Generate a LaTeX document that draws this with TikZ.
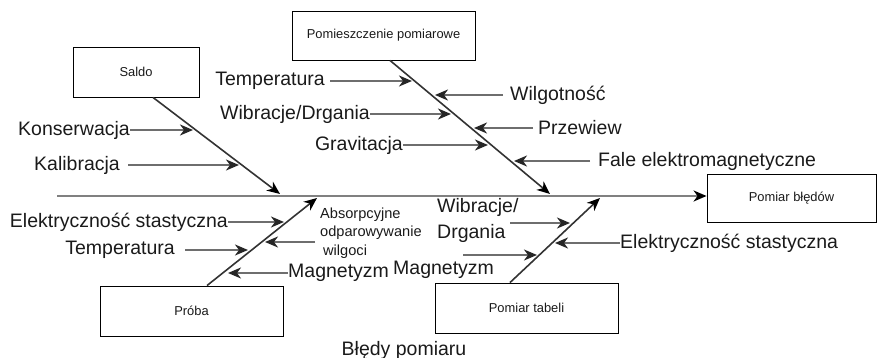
\documentclass[tikz,border=0pt]{standalone}
\usepackage{fontspec}
\setmainfont{Liberation Sans}
\usetikzlibrary{arrows.meta}
\definecolor{txt}{HTML}{1A1A1A}
\definecolor{spinec}{HTML}{808080}
\definecolor{bonec}{HTML}{333333}
\definecolor{arrc}{HTML}{6E6E6E}
\begin{document}
\begin{tikzpicture}[x=1pt,y=-1pt,
  box/.style={draw=black,line width=0.9pt,fill=white,inner sep=0pt,text=txt,font=\fontsize{12.9}{15}\selectfont},
  lbl/.style={inner xsep=0pt,inner ysep=1pt,text=txt,font=\fontsize{19.5}{23}\selectfont},
  small/.style={inner sep=0pt,text=txt,align=left,font=\fontsize{14.6}{18.5}\selectfont},
  spine/.style={draw=spinec,line width=2.6pt,-{Stealth[length=13pt,width=11pt,inset=4pt,color=black]}},
  bone/.style={draw=bonec,line width=1.6pt,-{Stealth[length=13pt,width=11pt,inset=4pt,color=black]}},
  harr/.style={draw=arrc,line width=2.1pt,-{Stealth[length=13pt,width=11pt,inset=4pt,color=black!85]}}]
\useasboundingbox (0,0) rectangle (878,358);

% boxes
\node[box,minimum width=126pt,minimum height=50pt] (saldo) at (136,72) {Saldo};
\node[box,minimum width=183pt,minimum height=49pt] (room) at (383.5,35.5) {Pomieszczenie pomiarowe};
\node[box,minimum width=169pt,minimum height=48pt] (err) at (791.5,198) {Pomiar błędów};
\node[box,minimum width=183pt,minimum height=50pt] (proba) at (191.5,311) {Próba};
\node[box,minimum width=183pt,minimum height=50pt] (tab) at (526.5,308) {Pomiar tabeli};

% spine
\coordinate (sp0) at (57,196);
\draw[spine] (sp0) -- (sp0 -| err.west);

% bones
\coordinate (sB) at (280,194);
\coordinate (rB) at (550,194);
\coordinate (pB) at (317,198);
\coordinate (tB) at (600,198);
\draw[bone] ([xshift=17pt]saldo.south) -- (sB);
\draw[bone] ([xshift=6.5pt]room.south) -- (rB);
\draw[bone] ([xshift=15.5pt]proba.north) -- (pB);
\draw[bone] ([xshift=-16.5pt]tab.north) -- (tB);

% Saldo branch
\node[lbl,anchor=east] (kons) at (130,130) {Konserwacja};
\coordinate (kons1) at (193,130);
\draw[harr] (kons.east) -- (kons1);
\node[lbl,anchor=east] (kal) at (120,165) {Kalibracja};
\coordinate (kal1) at (239,165);
\draw[harr] ([xshift=8pt]kal.east) -- (kal1);

% Pomieszczenie branch
\node[lbl,anchor=east] (temp1) at (325,81) {Temperatura};
\coordinate (temp1a) at (412,81);
\draw[harr] ([xshift=5pt]temp1.east) -- (temp1a);
\node[lbl,anchor=east] (wib1) at (370,114) {Wibracje/Drgania};
\coordinate (wib1a) at (451,114);
\draw[harr] (wib1.east) -- (wib1a);
\node[lbl,anchor=east] (grav) at (403,145) {Gravitacja};
\coordinate (grava) at (488,145);
\draw[harr] (grav.east) -- (grava);
\node[lbl,anchor=west] (wilg) at (510,95) {Wilgotność};
\coordinate (wilga) at (435,95);
\draw[harr] ([xshift=-7pt]wilg.west) -- (wilga);
\node[lbl,anchor=west] (prz) at (538,128) {Przewiew};
\coordinate (prza) at (474,128);
\draw[harr] ([xshift=-5pt]prz.west) -- (prza);
\node[lbl,anchor=west] (fale) at (598,161) {Fale elektromagnetyczne};
\coordinate (falea) at (514,161);
\draw[harr] ([xshift=-8pt]fale.west) -- (falea);

% Proba branch
\node[lbl,anchor=east] (el1) at (228,222) {Elektryczność stastyczna};
\coordinate (el1a) at (284,222);
\draw[harr] (el1.east) -- (el1a);
\node[lbl,anchor=east] (temp2) at (175,250) {Temperatura};
\coordinate (temp2a) at (248,250);
\draw[harr] ([xshift=10pt]temp2.east) -- (temp2a);
\node[small,anchor=west] (abs) at (320,233) {Absorpcyjne\\odparowywanie\\\hspace*{3pt}wilgoci};
\coordinate (absa) at (265,242);
\draw[harr] ([xshift=-5pt]abs.west |- absa) -- (absa);
\node[lbl,anchor=west] (mag1) at (288,273) {Magnetyzm};
\coordinate (mag1a) at (228,273);
\draw[harr] (mag1.west) -- (mag1a);

% Pomiar tabeli branch
\node[lbl,anchor=west,align=left,font=\fontsize{19.5}{26}\selectfont] (wib2) at (437,220) {Wibracje/\\Drgania};
\coordinate (wib2s) at (510,223);
\coordinate (wib2a) at (570,223);
\draw[harr] (wib2s) -- (wib2a);
\node[lbl,anchor=west] (el2) at (620,243) {Elektryczność stastyczna};
\coordinate (el2a) at (555,243);
\draw[harr] (el2.west) -- (el2a);
\node[lbl,anchor=west] (mag2) at (393,270) {Magnetyzm};
\coordinate (mag2s) at (463,255);
\coordinate (mag2a) at (537,255);
\draw[harr] (mag2s) -- (mag2a);

% title
\node[lbl] (title) at (404,350) {Błędy pomiaru};
\end{tikzpicture}
\end{document}
